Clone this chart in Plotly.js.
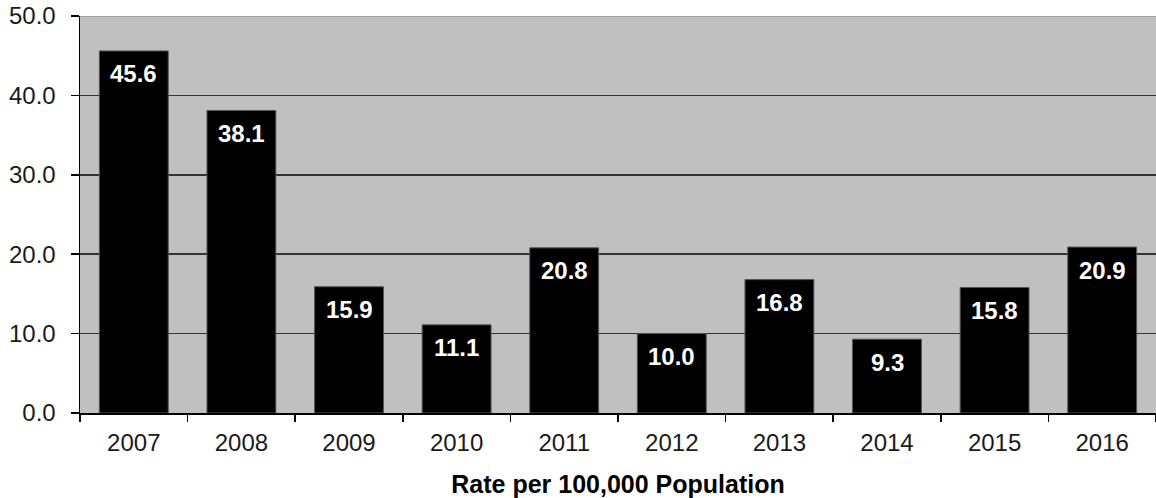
<!DOCTYPE html>
<html>
<head>
<meta charset="utf-8">
<script src="https://cdn.plot.ly/plotly-3.0.1.min.js"></script>
<style>html,body{margin:0;padding:0;background:#fff;}#chart{width:1156px;height:498px;}</style>
</head>
<body>
<div id="chart"></div>
<script>
const years = ['2007','2008','2009','2010','2011','2012','2013','2014','2015','2016'];
const rates = [45.6, 38.1, 15.9, 11.1, 20.8, 10.0, 16.8, 9.3, 15.8, 20.9];
const xAxisTitle = 'Rate per 100,000 Population';
const yTicks = [0, 10, 20, 30, 40, 50];

const trace = {
  type: 'bar',
  x: years,
  y: rates,
  marker: {color: '#000000', line: {color: '#555555', width: 1}},
  width: 0.64,
  hoverinfo: 'x+y'
};

const annotations = years.map((yr, i) => ({
  x: i, y: rates[i], xref: 'x', yref: 'y',
  text: rates[i].toFixed(1),
  showarrow: false, yanchor: 'middle', yshift: -23,
  font: {family: 'Liberation Sans, Arial, sans-serif', size: 24, color: '#ffffff', weight: 'bold'}
}));

const layout = {
  width: 1156, height: 498,
  margin: {l: 80, r: 0, t: 16, b: 85},
  paper_bgcolor: '#ffffff',
  plot_bgcolor: '#c0c0c0',
  showlegend: false,
  font: {family: 'Liberation Sans, Arial, sans-serif', size: 24, color: '#111111'},
  xaxis: {
    type: 'category',
    range: [-0.5, 9.5],
    autorange: false,
    tickson: 'boundaries',
    ticks: 'outside', ticklen: 7, tickwidth: 1.5, tickcolor: '#000',
    showline: true, linecolor: '#000', linewidth: 1.5,
    showgrid: false,
    tickangle: 0,
    ticklabelstandoff: 8,
    tickfont: {size: 24, color: '#1a1a1a'},
    title: {text: xAxisTitle, font: {size: 25, color: '#000', weight: 'bold'}, standoff: 22}
  },
  yaxis: {
    range: [0, 50],
    autorange: false,
    tickvals: yTicks,
    tickformat: '.1f',
    ticks: 'outside', ticklen: 8, tickwidth: 1.5, tickcolor: '#000',
    ticklabelstandoff: 10,
    showline: true, linecolor: '#000', linewidth: 1.5,
    showgrid: true, gridcolor: '#333333', gridwidth: 1.5,
    zeroline: false,
    tickfont: {size: 24, color: '#1a1a1a'}
  },
  shapes: [{type: 'line', xref: 'paper', yref: 'y', x0: 0, x1: 1, y0: 50, y1: 50, line: {color: '#9a9a9a', width: 1.5}}],
  annotations: annotations
};

Plotly.newPlot('chart', [trace], layout, {displayModeBar: false, staticPlot: true});
</script>
</body>
</html>
